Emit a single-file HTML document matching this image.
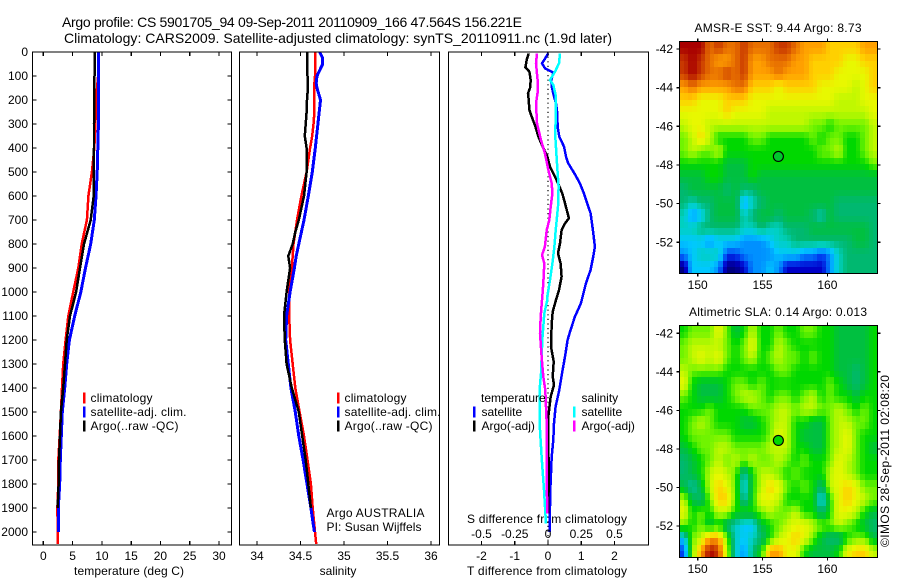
<!DOCTYPE html>
<html><head><meta charset="utf-8"><title>Argo profile</title>
<style>
html,body{margin:0;padding:0;background:#fff}
svg{display:block}
text{font-family:"Liberation Sans",Arial,sans-serif;font-size:12px;fill:#000}
.title{font-size:14px}
.frame{fill:none;stroke:#000;stroke-width:1.2;shape-rendering:crispEdges}
</style></head>
<body>
<svg id="fig" xmlns="http://www.w3.org/2000/svg" width="900" height="580" viewBox="0 0 900 580">
<rect width="900" height="580" fill="#fff"/>
<text class="title" x="62" y="27" textLength="460">Argo profile: CS 5901705_94 09-Sep-2011 20110909_166 47.564S 156.221E</text>
<text class="title" x="64" y="43" textLength="548">Climatology: CARS2009. Satellite-adjusted climatology: synTS_20110911.nc (1.9d later)</text>
<text x="129" y="575" text-anchor="middle" textLength="110">temperature (deg C)</text>
<text x="338" y="575" text-anchor="middle">salinity</text>
<text x="547" y="575" text-anchor="middle" textLength="160">T difference from climatology</text>
<text x="547" y="523" text-anchor="middle" textLength="160">S difference from climatology</text>
<text x="326.5" y="517" textLength="98">Argo AUSTRALIA</text>
<text x="326.5" y="531" textLength="95">PI: Susan Wijffels</text>
<text x="778" y="32" text-anchor="middle" textLength="167">AMSR-E SST: 9.44  Argo: 8.73</text>
<text x="778" y="316" text-anchor="middle" textLength="178">Altimetric SLA: 0.14  Argo: 0.013</text>
<text transform="translate(889,547) rotate(-90)" textLength="172">©IMOS 28-Sep-2011 02:08:20</text>
<g id="layer"></g>
</svg>
<script>
// ---------- profile data (depth in dbar) ----------
const tempDepths = [0,100,200,300,400,500,600,700,800,900,1000,1100,1200,1300,1400,1500,1600,1700,1800,1900,2000,2050];
const tempClim = [9.4,9.35,9.0,8.9,8.7,8.3,7.7,7.45,6.55,5.98,5.1,4.27,3.8,3.4,3.2,3.0,2.8,2.56,2.56,2.4,2.46,2.46];
const tempSat = [9.45,9.45,9.45,9.4,9.3,9.2,9.0,8.7,8.1,7.2,6.4,5.36,4.45,4.0,3.65,3.25,3.07,2.9,2.8,2.56,2.56,null];
const tempArgo = [8.75,8.75,8.7,8.65,8.65,8.6,8.6,8.1,6.95,6.27,5.6,4.56,4.0,3.7,3.4,3.0,2.85,2.68,2.62,2.46,null,null];

const salDepths = [0,25,50,100,130,150,200,250,300,350,400,500,600,700,750,800,850,900,1000,1100,1200,1300,1400,1500,1600,1700,1800,1900,2000,2050];
const salClim = [34.667,34.667,34.667,34.667,34.66,34.66,34.66,34.66,34.65,34.635,34.61,34.57,34.51,34.46,34.44,34.42,34.41,34.40,34.37,34.37,34.38,34.41,34.44,34.49,34.54,34.58,34.62,34.64,34.667,34.68];
const salSat = [34.72,34.755,34.755,34.69,34.68,34.69,34.73,34.715,34.70,34.685,34.67,34.636,34.59,34.54,34.51,34.48,34.45,34.43,34.38,34.34,34.33,34.36,34.39,34.44,34.48,34.53,34.575,34.62,34.66,null];
const salArgo = [34.575,34.575,34.575,34.58,34.58,34.585,34.575,34.57,34.56,34.55,34.57,34.57,34.54,34.48,34.44,34.41,34.36,34.38,34.34,34.31,34.32,34.34,34.40,34.48,34.52,34.56,34.59,34.62,null,null];

const dTSatDepths = [5,26,47,68,86,117,144,186,214,255,311,353,394,436,464,505,547,589,630,672,742,811,853,908,964,1019,1047,1103,1158,1200,1269,1339,1408,1478,1547,1617,1686,1756,1825,1894,1964,2000];
const dTSat = [0.01,-0.08,-0.18,-0.09,0.16,0.1,0.11,0.18,0.24,0.28,0.29,0.34,0.48,0.54,0.61,0.79,0.96,1.08,1.18,1.28,1.35,1.41,1.36,1.28,1.14,1.04,0.99,0.81,0.68,0.59,0.51,0.42,0.34,0.23,0.18,0.16,0.11,0.09,0.07,0.06,0.05,0.05];
const dTArgoDepths = [6,33,64,82,117,151,172,200,242,269,311,353,394,436,478,519,547,589,630,693,714,742,797,839,881,936,992,1033,1082,1131,1228,1290,1353,1387,1436,1519,1617,1756,1922];
const dTArgo = [-0.58,-0.64,-0.68,-0.56,-0.52,-0.54,-0.6,-0.58,-0.56,-0.49,-0.38,-0.29,-0.16,-0.02,0.06,0.21,0.3,0.43,0.51,0.63,0.51,0.41,0.36,0.3,0.38,0.41,0.33,0.24,0.14,0.11,0.09,0.17,0.14,0.18,0.08,0.01,0.01,0.02,0.01];
const dSSatDepths = [6,47,82,117,137,186,255,353,464,561,644,742,811,881,950,1019,1033,1089,1200,1339,1408,1547,1686,1825,1964];
const dSSat = [0.09,0.083,0.053,0.015,0.04,0.06,0.058,0.055,0.068,0.08,0.075,0.058,0.048,0.033,0.015,-0.005,-0.005,-0.028,-0.043,-0.053,-0.063,-0.063,-0.048,-0.03,-0.015];
const dSArgoDepths = [6,47,117,158,214,297,367,422,492,547,589,644,700,742,811,846,881,964,1019,1033,1103,1172,1269,1353,1408,1478,1547,1686,1825,1922];
const dSArgo = [-0.083,-0.09,-0.078,-0.075,-0.09,-0.083,-0.053,-0.023,0.003,0.028,0.033,0.02,0.01,-0.01,-0.023,-0.045,-0.028,-0.035,-0.043,-0.045,-0.055,-0.06,-0.048,-0.035,-0.02,-0.015,-0.01,-0.01,-0.008,-0.005];

// ---------- tick labels ----------
const depthTicks = [0,100,200,300,400,500,600,700,800,900,1000,1100,1200,1300,1400,1500,1600,1700,1800,1900,2000];
const tempTicks = [0,5,10,15,20,25,30];
const salTicks = [34,34.5,35,35.5,36];
const dTTicks = [-2,-1,0,1,2];
const dSTicks = [-0.5,-0.25,0,0.25,0.5];
const lonTicks = [150,155,160];
const latTicks = [-42,-44,-46,-48,-50,-52];

// ---------- map data: colour level per node, north row first ----------
const sstLevels = [
[16,16,16,14,15,14,14,15,14,14,14,15,15,14,13,13,13,12,12,12,12,13,13],
[15,16,15,14,13,13,14,15,13,13,14,14,14,13,13,12,12,12,12,11,11,12,12],
[15,16,15,14,14,15,14,15,13,13,13,14,13,13,13,12,12,12,11,11,11,11,12],
[13,14,13,13,13,13,14,14,12,12,12,11,12,12,12,12,11,11,11,11,10,11,12],
[12,12,11,11,11,12,12,12,11,11,11,11,11,11,11,11,11,11,10,10,10,11,11],
[11,11,11,11,11,12,11,11,11,11,10,10,10,10,10,10,10,10,10,10,10,10,11],
[10,11,11,10,10,10,10,10,10,10,10,10,10,10,10,9,9,8,9,9,9,9,10],
[9,10,12,10,8,8,8,8,9,9,8,8,8,8,8,9,8,9,9,8,8,9,10],
[9,10,9,9,10,8,8,8,8,8,8,8,8,8,8,8,9,9,10,8,8,9,10],
[8,8,8,8,8,7,7,7,8,8,8,8,8,8,8,8,8,8,8,8,8,8,9],
[7,7,7,8,8,7,7,7,8,7,7,7,7,7,7,7,7,7,7,7,7,7,7],
[6,7,7,7,7,6,7,6,6,7,7,7,7,7,7,7,7,7,7,7,7,7,7],
[6,5,6,6,7,7,7,3,5,6,7,7,7,7,7,7,7,7,6,6,6,6,6],
[5,3,4,6,7,7,7,5,6,7,7,6,7,7,7,6,5,7,6,6,6,6,6],
[5,5,6,6,6,6,6,5,5,6,5,5,6,6,6,7,7,7,7,7,7,7,6],
[4,4,4,3,4,4,4,3,3,3,4,5,5,6,6,6,6,6,6,6,7,7,6],
[3,4,5,5,5,2,2,3,3,3,3,4,4,4,3,3,2,3,5,6,6,6,6],
[0,4,4,4,3,0,0,1,3,3,4,3,1,1,1,1,1,3,5,6,6,6,6]];
const slaLevels = [
[8,9,9,9,11,9,7,8,10,8,8,9,8,8,9,9,8,8,7,7,7,7,8],
[9,10,10,10,10,9,8,9,11,8,8,10,9,8,8,8,8,8,7,7,7,7,8],
[9,10,11,10,11,9,8,9,10,8,9,10,9,9,8,9,8,8,7,7,7,7,8],
[10,9,9,9,9,8,8,8,8,8,8,9,9,8,8,8,8,8,7,7,6,7,8],
[11,8,7,7,7,8,9,9,8,9,8,8,8,8,8,8,8,9,8,7,6,7,8],
[9,8,7,7,7,8,9,10,10,9,8,9,9,8,9,10,8,9,8,8,7,8,8],
[8,8,8,9,8,8,8,8,9,9,9,10,10,9,10,10,9,9,10,9,8,9,8],
[8,9,10,9,8,8,8,7,7,8,9,10,10,8,8,7,7,9,10,10,9,9,8],
[8,9,9,9,9,9,8,8,8,8,9,11,10,8,7,7,7,9,10,11,9,8,8],
[7,8,9,9,10,10,9,9,9,9,10,10,10,8,8,7,7,9,10,11,9,8,7],
[6,7,8,9,10,9,10,9,10,9,9,10,9,8,9,8,8,9,11,10,9,8,8],
[6,7,8,10,11,10,9,5,8,10,10,9,8,9,8,8,8,10,11,10,9,8,8],
[7,5,7,10,12,11,9,4,8,10,12,11,9,8,9,8,6,10,11,12,11,9,9],
[10,7,6,9,12,12,9,5,8,11,11,10,8,8,8,8,4,8,11,12,11,10,9],
[11,8,9,8,10,10,8,8,8,9,10,9,9,10,8,8,6,8,11,11,10,8,7],
[9,8,9,7,8,6,5,4,4,7,8,9,10,11,11,10,9,9,10,9,8,7,6],
[4,9,10,13,13,9,5,4,5,6,8,10,11,12,11,9,7,6,6,8,9,9,7],
[2,9,13,16,15,10,5,3,6,8,13,13,11,11,8,7,7,7,8,11,12,12,10]];
const argoLon = [156.22];
const argoLat = [-47.56];
const sstArgoLevel = [7.3];
const slaArgoLevel = [8];

// ---------- colour map (level -> colour, blended between stops) ----------
const colormap = ['#000080','#0000c8','#0040f0','#0090ff','#00c8ff','#00d0c0','#00b870','#00c040','#00d800','#70f400','#c0f800','#e8f800','#ffd000','#ffa000','#e87000','#c83800','#a80000'];
function hexRGB(h){return [1,3,5].map(i=>parseInt(h.substr(i,2),16));}
function levelColor(v){
  const c=Math.max(0,Math.min(colormap.length-1,v));
  const i=Math.min(colormap.length-2,Math.floor(c));
  const f=c-i,a=hexRGB(colormap[i]),b=hexRGB(colormap[i+1]);
  return 'rgb('+a.map((x,k)=>Math.round(x+(b[k]-x)*f)).join(',')+')';
}

// ---------- scales ----------
const NS='http://www.w3.org/2000/svg';
const layer=document.getElementById('layer');
const PANEL_TOP=52, PANEL_BOTTOM=545;
const yDepth=d=>52+0.24*d;
const xTemp=t=>43.3+5.857*t;
const xSal=s=>257+87*(s-34);
const xDT=t=>548+33.25*t;
const xDS=s=>548+133*s;
const xLon=l=>697.7+12.97*(l-150);
const ySst=l=>49+19.33*(-42-l);
const ySla=l=>333.3+19.27*(-42-l);

function mk(tag,attrs,parent){
  const e=document.createElementNS(NS,tag);
  for(const k in attrs) e.setAttribute(k,attrs[k]);
  (parent||layer).appendChild(e);
  return e;
}
function label(x,y,s,anchor,size){
  const e=mk('text',{x:x,y:y,'text-anchor':anchor||'start'});
  if(size) e.style.fontSize=size+'px';
  e.textContent=s;
  return e;
}
function tick(x1,y1,x2,y2){
  return mk('line',{x1:x1,y1:y1,x2:x2,y2:y2,stroke:'#000','stroke-width':1.2,'shape-rendering':'crispEdges'});
}
function profile(depths,values,xs,color,width){
  const pts=[];
  depths.forEach((d,i)=>{ if(values[i]!==null) pts.push(xs(values[i]).toFixed(1)+','+yDepth(d).toFixed(1)); });
  return mk('polyline',{points:pts.join(' '),fill:'none',stroke:color,'stroke-width':width,'shape-rendering':'crispEdges','stroke-linejoin':'round'});
}
function frame(x,y,w,h){
  return mk('rect',{x:x,y:y,width:w,height:h,class:'frame'});
}

// ---------- temperature panel ----------
const p1L=32.5,p1R=231.5;
let s;
s=profile(tempDepths,tempClim,xTemp,'#ff0000',2.5);


s=profile(tempDepths,tempSat,xTemp,'#0000ff',3);


s=profile(tempDepths,tempArgo,xTemp,'#000000',2.5);


s=frame(p1L,PANEL_TOP,p1R-p1L,PANEL_BOTTOM-PANEL_TOP);


depthTicks.forEach(d=>{
  const y=yDepth(d);
  let t=tick(p1L,y,p1L+4,y);
  
  
  t=tick(p1R-4,y,p1R,y);
  
  
  const l=label(28,y+4,String(d),'end');
  
  
});
tempTicks.forEach(v=>{
  const x=xTemp(v);
  let t=tick(x,PANEL_TOP,x,PANEL_TOP+4);
  
  
  t=tick(x,PANEL_BOTTOM-4,x,PANEL_BOTTOM);
  
  
  const l=label(x,560,String(v),'middle');
  
  
});

// ---------- salinity panel ----------
const p2L=239.5,p2R=439.5;
s=profile(salDepths,salClim,xSal,'#ff0000',2.5);


s=profile(salDepths,salSat,xSal,'#0000ff',3);


s=profile(salDepths,salArgo,xSal,'#000000',2.5);


s=frame(p2L,PANEL_TOP,p2R-p2L,PANEL_BOTTOM-PANEL_TOP);


salTicks.forEach(v=>{
  const x=xSal(v);
  let t=tick(x,PANEL_TOP,x,PANEL_TOP+4);
  
  
  t=tick(x,PANEL_BOTTOM-4,x,PANEL_BOTTOM);
  
  
  const l=label(x,560,String(v),'middle');
  
  
});

// ---------- difference panel ----------
const p3L=448.5,p3R=648.5;
s=mk('line',{x1:xDT(0),y1:PANEL_TOP,x2:xDT(0),y2:PANEL_BOTTOM,stroke:'#000','stroke-width':1.2,'stroke-dasharray':'1.2 3.4'});


s=profile(dTSatDepths,dTSat,xDT,'#0000ff',2.5);


s=profile(dTArgoDepths,dTArgo,xDT,'#000000',2.5);


s=profile(dSSatDepths,dSSat,xDS,'#00ffff',2.5);


s=profile(dSArgoDepths,dSArgo,xDS,'#ff00ff',2.5);


s=frame(p3L,PANEL_TOP,p3R-p3L,PANEL_BOTTOM-PANEL_TOP);


dTTicks.forEach(v=>{
  const x=xDT(v);
  let t=tick(x,PANEL_TOP,x,PANEL_TOP+4);
  
  
  t=tick(x,PANEL_BOTTOM-4,x,PANEL_BOTTOM);
  
  
  const l=label(x,560,String(v),'middle');
  
  
});
dSTicks.forEach(v=>{
  const l=label(xDS(v),538,String(v),'middle');
  
  
});

// ---------- legends ----------
const legendTexts=['climatology','satellite-adj. clim.','Argo(..raw -QC)'];
const legendColors=['#ff0000','#0000ff','#000000'];
const legendLengths=[62,96,88];
const legendYs=[398,412,426];
[[83,90.5],[337,344.5]].forEach(pos=>{
  legendTexts.forEach((txt,i)=>{
    const m=mk('rect',{x:pos[0],y:legendYs[i]-5.5,width:2.5,height:11,fill:legendColors[i],'shape-rendering':'crispEdges'});
    
    
    const l=label(pos[1],legendYs[i]+4,txt);
    l.setAttribute('textLength',legendLengths[i]);
    
    
  });
});
const diffLegendRows=[[473,481.5,'#0000ff','satellite',412],[473,481.5,'#000000','Argo(-adj)',426],[573,581.5,'#00ffff','satellite',412],[573,581.5,'#ff00ff','Argo(-adj)',426]];
diffLegendRows.forEach(r=>{
  const m=mk('rect',{x:r[0],y:r[4]-5.5,width:2.5,height:11,fill:r[2],'shape-rendering':'crispEdges'});
  
  
  const l=label(r[1],r[4]+4,r[3]);
  
  
});
s=label(481,402,'temperature');


s=label(581.5,402,'salinity');



// ---------- maps: shaded between data nodes at 1/3 degree display cells ----------
function shade(levels,r,c){
  const rows=levels.length,cols=levels[0].length;
  const ry=Math.max(0,Math.min(rows-1,r)),cx=Math.max(0,Math.min(cols-1,c));
  const r0=Math.min(rows-2,Math.floor(ry)),c0=Math.min(cols-2,Math.floor(cx));
  const fr=ry-r0,fc=cx-c0;
  return (levels[r0][c0]*(1-fc)+levels[r0][c0+1]*fc)*(1-fr)+(levels[r0+1][c0]*(1-fc)+levels[r0+1][c0+1]*fc)*fr;
}
function drawMap(levels,yScale,top,bottom,markerLevel,labelBaseline,prefix){
  const L=679.5,R=877.5,rows=levels.length*2,cols=levels[0].length*2;
  const g=mk('g',{'shape-rendering':'crispEdges'});
  
  
  for(let r=0;r<rows;r++){
    const y0=Math.round(top+(bottom-top)*r/rows), y1=Math.round(top+(bottom-top)*(r+1)/rows);
    for(let c=0;c<cols;c++){
      const x0=Math.round(L+(R-L)*c/cols), x1=Math.round(L+(R-L)*(c+1)/cols);
      const v=shade(levels,(r+0.5)/2-0.5,(c+0.5)/2-0.5);
      const cell=mk('rect',{x:x0,y:y0,width:x1-x0,height:y1-y0,fill:levelColor(v)},g);
      
      
    }
  }
  const f=frame(L,top,R-L,bottom-top);
  
  
  latTicks.forEach(v=>{
    const y=yScale(v);
    let t=tick(L-3,y,L,y);
    
    
    t=tick(R,y,R+3,y);
    
    
    const l=label(673,y+4,String(v),'end');
    
    
  });
  lonTicks.forEach(v=>{
    const x=xLon(v);
    let t=tick(x,top-3,x,top);
    
    
    t=tick(x,bottom,x,bottom+3);
    
    
    const l=label(x,labelBaseline,String(v),'middle');
    
    
  });
  const dot=mk('circle',{cx:xLon(argoLon[0]),cy:yScale(argoLat[0]),r:5,fill:levelColor(markerLevel),stroke:'#000','stroke-width':1.1});
  
  
}
drawMap(sstLevels,ySst,41.5,273.5,sstArgoLevel[0],289,'sst');
drawMap(slaLevels,ySla,325.5,557.5,slaArgoLevel[0],573,'sla');
</script>
</body></html>
